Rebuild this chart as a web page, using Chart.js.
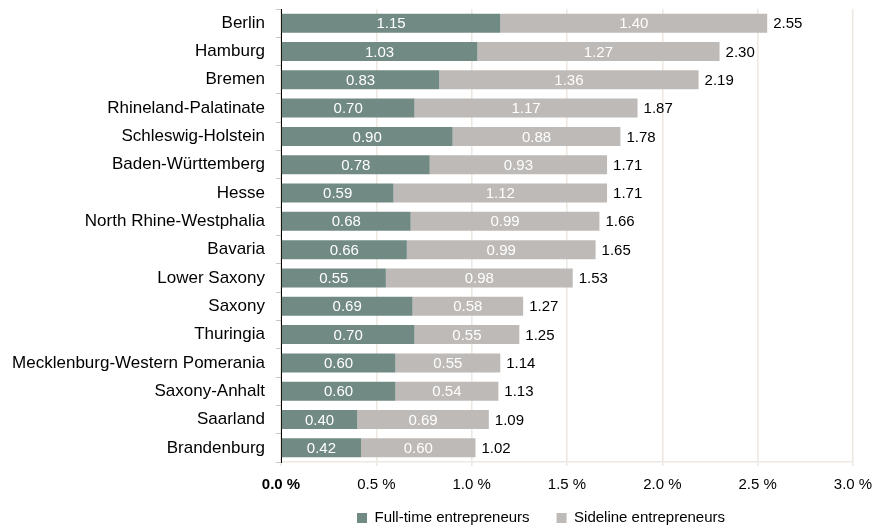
<!DOCTYPE html>
<html lang="en">
<head>
<meta charset="UTF-8">
<title>Entrepreneurs by state</title>
<script src="https://cdn.jsdelivr.net/npm/chart.js"></script>
<style>
  html, body { margin: 0; padding: 0; background: #fff; }
  #wrap { width: 879px; height: 527px; position: relative; }
</style>
</head>
<body>
<div id="wrap"><canvas id="chart"></canvas></div>
<script>
const states = ['Berlin', 'Hamburg', 'Bremen', 'Rhineland-Palatinate', 'Schleswig-Holstein',
  'Baden-Württemberg', 'Hesse', 'North Rhine-Westphalia', 'Bavaria', 'Lower Saxony',
  'Saxony', 'Thuringia', 'Mecklenburg-Western Pomerania', 'Saxony-Anhalt', 'Saarland', 'Brandenburg'];
const fullTime = [1.15, 1.03, 0.83, 0.70, 0.90, 0.78, 0.59, 0.68, 0.66, 0.55, 0.69, 0.70, 0.60, 0.60, 0.40, 0.42];
const sideline = [1.40, 1.27, 1.36, 1.17, 0.88, 0.93, 1.12, 0.99, 0.99, 0.98, 0.58, 0.55, 0.55, 0.54, 0.69, 0.60];
const totals = [2.55, 2.30, 2.19, 1.87, 1.78, 1.71, 1.71, 1.66, 1.65, 1.53, 1.27, 1.25, 1.14, 1.13, 1.09, 1.02];

const FONT = '"Liberation Sans", Arial, sans-serif';

// numbers inside the segments and totals after the bars
const valueLabels = {
  id: 'valueLabels',
  afterDatasetsDraw(chart) {
    const ctx = chart.ctx;
    ctx.save();
    ctx.font = '15px ' + FONT;
    ctx.textBaseline = 'middle';
    chart.data.datasets.forEach((ds, i) => {
      chart.getDatasetMeta(i).data.forEach((bar, j) => {
        ctx.fillStyle = '#ffffff';
        ctx.textAlign = 'center';
        ctx.fillText(ds.data[j].toFixed(2), (bar.x + bar.base) / 2, bar.y + 1);
      });
    });
    const last = chart.getDatasetMeta(chart.data.datasets.length - 1);
    last.data.forEach((bar, j) => {
      ctx.fillStyle = '#000000';
      ctx.textAlign = 'left';
      ctx.fillText(totals[j].toFixed(2), bar.x + 6, bar.y + 1);
    });
    ctx.restore();
  }
};

// legend: wide gap between items but a short box, and a bit right of centre
const legendFix = {
  id: 'legendFix',
  beforeLayout(chart) {
    const lg = chart.legend;
    if (lg && !lg._fitPatched) {
      const fit = lg.fit;
      lg.fit = function () { fit.call(this); this.height = 32; };
      lg._fitPatched = true;
    }
  },
  afterLayout(chart) {
    const lg = chart.legend;
    const dx = 541 - (lg.left + lg.right) / 2;
    lg.left += dx;
    lg.right += dx;
    lg.top = 518 - 27 - 7.5;
    lg.bottom = lg.top + 70;
  }
};

new Chart(document.getElementById('chart'), {
  type: 'bar',
  data: {
    labels: states,
    datasets: [
      { label: 'Full-time entrepreneurs', data: fullTime, backgroundColor: '#718a84' },
      { label: 'Sideline entrepreneurs', data: sideline, backgroundColor: '#bebab7' }
    ]
  },
  options: {
    indexAxis: 'y',
    responsive: true,
    maintainAspectRatio: false,
    animation: false,
    datasets: { bar: { barPercentage: 0.67, categoryPercentage: 1 } },
    layout: { padding: { top: 9, right: 26, bottom: 0, left: 0 } },
    scales: {
      x: {
        stacked: true,
        min: 0,
        max: 3,
        ticks: {
          stepSize: 0.5,
          color: '#000',
          font: c => ({ family: FONT, size: 15, weight: c.index === 0 ? 'bold' : 'normal' }),
          padding: 10,
          callback: v => v.toFixed(1) + ' %'
        },
        grid: { color: '#eee8e3', tickColor: '#eee8e3', tickLength: 4, lineWidth: 1.6 },
        border: { color: '#eee8e3', width: 1.6 },
        afterFit: s => { s.height = 33; s.paddingLeft = 0; s.paddingRight = 0; }
      },
      y: {
        stacked: true,
        ticks: { color: '#000', font: { family: FONT, size: 17 }, padding: 11 },
        grid: { drawOnChartArea: false, tickLength: 5, tickColor: '#c8c4c0' },
        border: { color: '#000', width: 1 },
        afterFit: s => { s.width = 281; s.paddingTop = 0; s.paddingBottom = 0; }
      }
    },
    plugins: {
      legend: {
        position: 'bottom',
        labels: {
          boxWidth: 10, boxHeight: 10, color: '#000', padding: 27,
          font: { family: FONT, size: 15 }
        }
      },
      tooltip: { enabled: false }
    }
  },
  plugins: [valueLabels, legendFix]
});
</script>
</body>
</html>
